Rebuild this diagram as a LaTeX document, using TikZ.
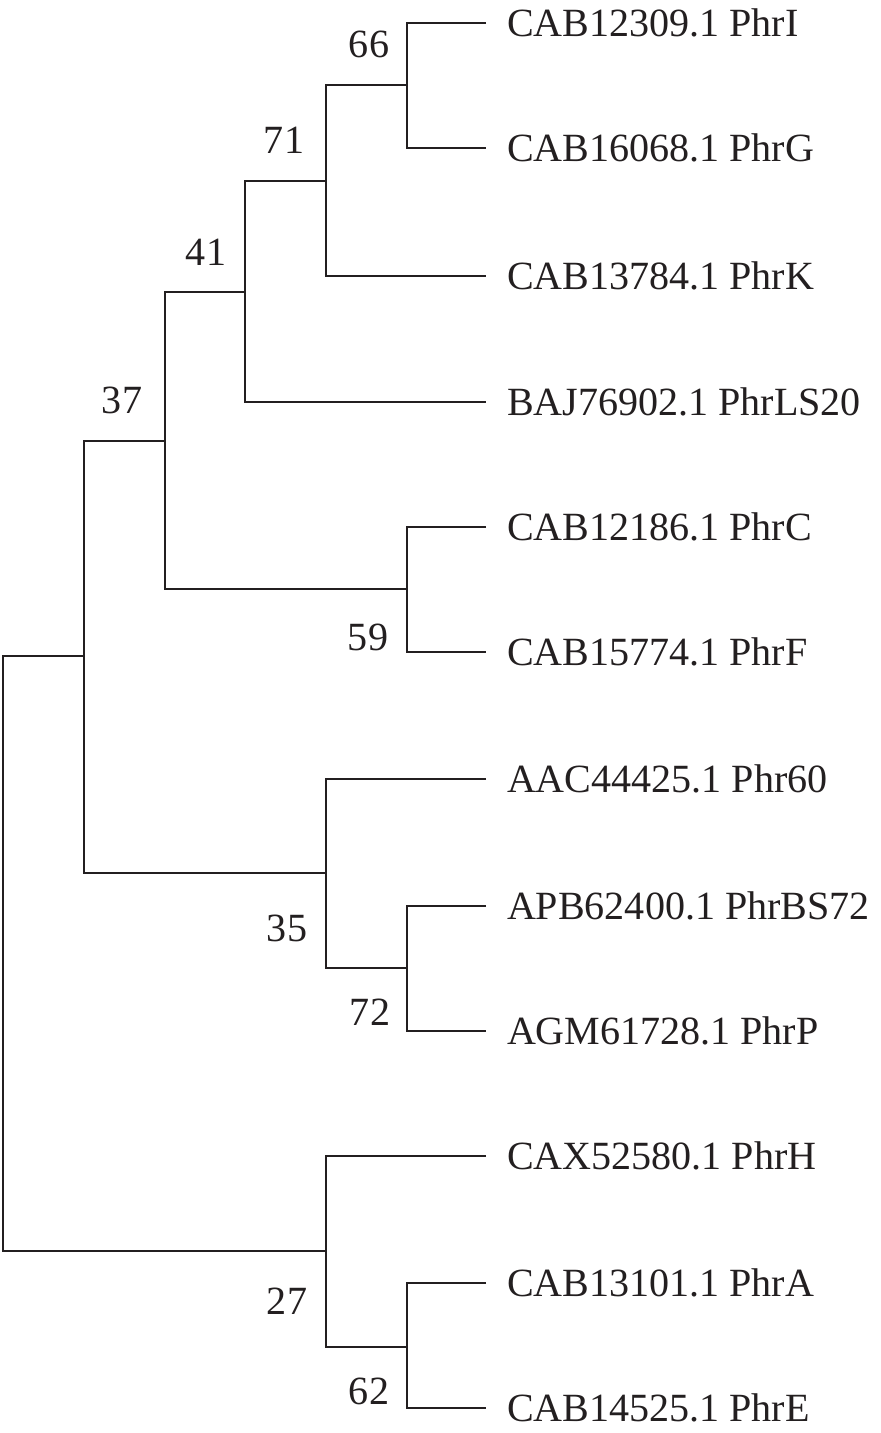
\documentclass[tikz,border=0pt]{standalone}
\usepackage{fontspec}
\setmainfont{Liberation Serif}
\usepackage{tikz}
\usetikzlibrary{calc}
\definecolor{treeink}{RGB}{35,31,32}
\tikzset{
  branch/.style={draw=treeink,line width=1.2pt},
  taxon/.style={anchor=west,inner xsep=0.42cm,inner ysep=0pt,outer sep=0pt,text=treeink},
  boot/.style={inner sep=0pt,text=treeink}
}

\begin{document}
\begin{tikzpicture}[x=0.02cm,y=-0.02cm,font=\fontsize{22.8}{27}\selectfont]
            \useasboundingbox (0,0) rectangle (880,1433);

            \node[taxon] (PhrI) at (486,23){CAB12309.1 PhrI};
            \node[taxon] (PhrG) at (486,148){CAB16068.1 PhrG};
            \node[taxon] (PhrK) at (486,276){CAB13784.1 PhrK};
            \node[taxon] (PhrLS20) at (486,402){BAJ76902.1 PhrLS20};
            \node[taxon] (PhrC) at (486,527){CAB12186.1 PhrC};
            \node[taxon] (PhrF) at (486,652){CAB15774.1 PhrF};
            \node[taxon] (Phr60) at (486,779){AAC44425.1 Phr60};
            \node[taxon] (PhrBS72) at (486,906){APB62400.1 PhrBS72};
            \node[taxon] (PhrP) at (486,1031){AGM61728.1 PhrP};
            \node[taxon] (PhrH) at (486,1156){CAX52580.1 PhrH};
            \node[taxon] (PhrA) at (486,1283){CAB13101.1 PhrA};
            \node[taxon] (PhrE) at (486,1408){CAB14525.1 PhrE};

            \coordinate (n66) at (407,85);
            \coordinate (n71) at (326,181);
            \coordinate (n41) at (245,292);
            \coordinate (n59) at (407,589);
            \coordinate (n37) at (165,441);
            \coordinate (n72) at (407,968);
            \coordinate (n35) at (326,873);
            \coordinate (nA) at (84,656);
            \coordinate (n62) at (407,1347);
            \coordinate (n27) at (326,1251);
            \coordinate (root) at (3,953.5);

            \node[boot] (b66) at (369,44){66};
            \node[boot] (b71) at (284,140){71};
            \node[boot] (b41) at (206,252){41};
            \node[boot] (b37) at (122,400){37};
            \node[boot] (b59) at (368,637){59};
            \node[boot] (b35) at (287,928){35};
            \node[boot] (b72) at (370,1012){72};
            \node[boot] (b27) at (287,1301){27};
            \node[boot] (b62) at (369,1391){62};

            \draw[branch] (PhrI) -| (n66) |- (PhrG);
            \draw[branch] (n66) -| (n71) |- (PhrK);
            \draw[branch] (n71) -| (n41) |- (PhrLS20);
            \draw[branch] (PhrC) -| (n59) |- (PhrF);
            \draw[branch] (n41) -| (n37) |- (n59);
            \draw[branch] (PhrBS72) -| (n72) |- (PhrP);
            \draw[branch] (Phr60) -| (n35) |- (n72);
            \draw[branch] (n37) -| (nA) |- (n35);
            \draw[branch] (PhrA) -| (n62) |- (PhrE);
            \draw[branch] (PhrH) -| (n27) |- (n62);
            \draw[branch] (nA) -| (root) |- (n27);
\end{tikzpicture}
\end{document}
